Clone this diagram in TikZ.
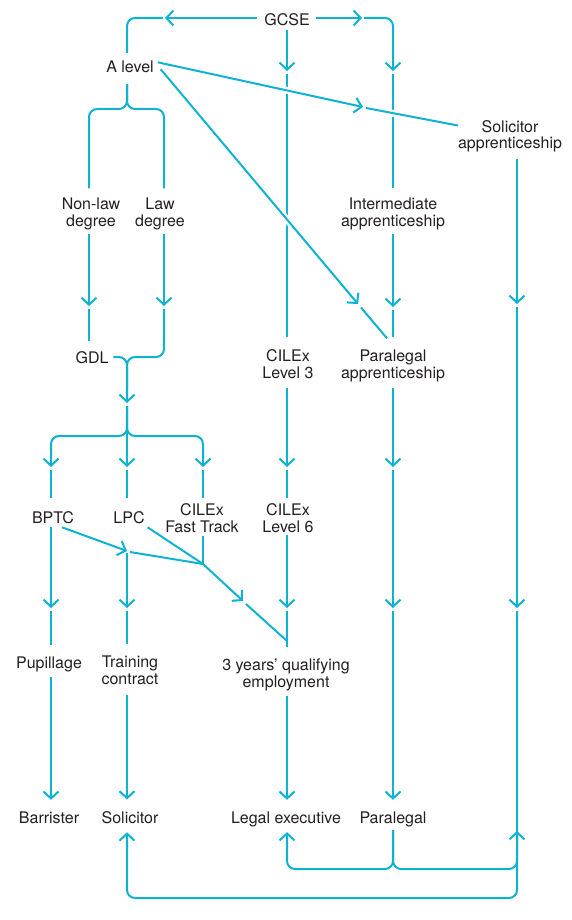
\documentclass[tikz,border=0pt]{standalone}
\usepackage{fontspec}
\setmainfont{TeX Gyre Heros}
\usetikzlibrary{arrows.meta}
\definecolor{cy}{RGB}{14,178,210}
\definecolor{ink}{RGB}{35,31,32}
\begin{document}
\begin{tikzpicture}[x=1pt,y=-1pt,
  ln/.style={draw=cy, line width=2pt, rounded corners=8pt},
  ar/.style={ln, -{Straight Barb[length=7pt,width=15pt,line width=2pt]}},
  halo/.style={draw=white, line width=7pt},
  lbl/.style={font=\fontsize{16}{16.5}\selectfont, text=ink, align=center, inner sep=0pt, outer sep=0pt, anchor=base}]
\useasboundingbox (0,0) rectangle (571,920);

% ---- nodes (anchor = baseline of last line) ----
\node[lbl] (gcse) at (287,26) {GCSE};
\node[lbl] (alevel) at (130,73) {A level};
\node[lbl] (nonlaw) at (91,226) {Non-law\\degree};
\node[lbl] (law) at (160,226) {Law\\degree};
\node[lbl] (solapp) at (510,149) {Solicitor\\apprenticeship};
\node[lbl] (intapp) at (393,226) {Intermediate\\apprenticeship};
\node[lbl] (gdl) at (92,363) {GDL};
\node[lbl] (cil3) at (288,378) {CILEx\\Level 3};
\node[lbl] (paraapp) at (393,378) {Paralegal\\apprenticeship};
\node[lbl] (bptc) at (53,523) {BPTC};
\node[lbl] (lpc) at (129,523) {LPC};
\node[lbl] (fast) at (202,532) {CILEx\\Fast Track};
\node[lbl] (cil6) at (288,532) {CILEx\\Level 6};
\node[lbl] (pup) at (49,668) {Pupillage};
\node[lbl] (train) at (130,684) {Training\\contract};
\node[lbl] (qual) at (286,687) {3 years’ qualifying\\employment};
\node[lbl] (barr) at (49,823) {Barrister};
\node[lbl] (sol) at (130,823) {Solicitor};
\node[lbl] (legal) at (286,823) {Legal executive};
\node[lbl] (para) at (393,823) {Paralegal};

% ---- GCSE ----
\draw[ar] ([xshift=-7pt]gcse.west |- 0,18) -- (165,18);
\draw[ln] (163,18) -| ([yshift=8.5pt]alevel.north -| 127,0);
\draw[ar] ([xshift=6pt]gcse.east |- 0,18) -- (362,18);
\draw[ar] (364,18) -| (393,71);
\draw[ln] (393,74) -- ([yshift=9.5pt]intapp.north -| 393,0);
\draw[ar] ([yshift=-4pt]gcse.south -| 287,0) -- (287,71);
\draw[ln] (287,74) -- ([yshift=12.5pt]cil3.north -| 287,0);

% ---- A level to degrees ----
\draw[ln] ([yshift=-11pt]alevel.south -| 127,0) |- (89,109) -- ([yshift=9.5pt]nonlaw.north -| 89,0);
\draw[ln] ([yshift=-11pt]alevel.south -| 127,0) |- (164,109) -- ([yshift=9.5pt]law.north -| 164,0);

% ---- degrees to GDL ----
\draw[ar] ([yshift=-4.6pt]nonlaw.south -| 89,0) -- (89,306);
\draw[ln] (89,309) -- ([yshift=10.5pt]gdl.north -| 89,0);
\draw[ar] ([yshift=-4.6pt]law.south -| 164,0) -- (164,306);
\draw[ar] (164,309) |- (127,357) -- (127,403);
\draw[ln] ([xshift=5pt]gdl.east |- 0,357) -| (127,390);

% ---- split to BPTC, LPC, Fast Track ----
\draw[ar] (127,406) |- (51,436) -- (51,467);
\draw[ar] (127,406) |- (203,436) -- (203,467);
\draw[ar] (127,406) -- (127,467);
\draw[ln] (51,470) -- ([yshift=13.5pt]bptc.north -| 51,0);
\draw[ln] (127,470) -- ([yshift=13.5pt]lpc.north -| 127,0);
\draw[ln] (203,470) -- ([yshift=5.5pt]fast.north -| 203,0);

% ---- CILEx column ----
\draw[ar] ([yshift=-10pt]cil3.south -| 287,0) -- (287,467);
\draw[ln] (287,470) -- ([yshift=5.5pt]cil6.north -| 287,0);
\draw[ar] ([yshift=-3pt]cil6.south -| 287,0) -- (287,608);
\draw[ln] (287,611) -- ([yshift=11.5pt]qual.north -| 287,0);
\draw[ar] ([yshift=-5.6pt]qual.south -| 287,0) -- ([yshift=11.5pt]legal.north -| 287,0);

% ---- apprenticeship column ----
\draw[ar] ([yshift=-4.6pt]intapp.south -| 393,0) -- (393,307);
\draw[ln] (393,310) -- ([yshift=12.5pt]paraapp.north -| 393,0);
\draw[ar] ([yshift=-6.6pt]paraapp.south -| 393,0) -- (393,467);
\draw[ar] (393,470) -- (393,608);
\draw[ar] (393,611) -- ([yshift=11.5pt]para.north -| 393,0);

% ---- solicitor apprenticeship column ----
\draw[ar] ([yshift=-6.6pt]solapp.south -| 517,0) -- (517,304);
\draw[ar] (517,307) -- (517,608);
\draw[ar] (517,611) |- (127,898) -- ([yshift=-9pt]sol.south -| 127,0);

% ---- paralegal ----
\draw[ar] ([yshift=-3.6pt]para.south -| 393,0) |- (287,869) -- ([yshift=-5.6pt]legal.south -| 287,0);
\draw[ar] ([yshift=-3.6pt]para.south -| 393,0) |- (517,869) -- (517,831);

% ---- left columns ----
\draw[ar] ([yshift=-4pt]bptc.south -| 51,0) -- (51,608);
\draw[ln] (51,611) -- ([yshift=11.5pt]pup.north -| 51,0);
\draw[ar] ([yshift=-5.6pt]pup.south -| 51,0) -- ([yshift=11.5pt]barr.north -| 51,0);
\draw[ar] (127,553) -- (127,608);
\draw[ln] (127,611) -- ([yshift=11.5pt]train.north -| 127,0);
\draw[ar] ([yshift=-11pt]train.south -| 127,0) -- ([yshift=11.5pt]sol.north -| 127,0);

% ---- junction to qualifying employment ----
\coordinate (J) at (203,564);
\draw[ar] ([yshift=-4pt]bptc.south -| 62,0) -- (127,551);
\draw[ln] (130,552) -- (J);
\draw[ln] ([shift={(3pt,-4pt)}]lpc.south east) -- (J);
\draw[ln] ([yshift=-4pt]fast.south -| 203,0) -- (J);
\draw[ar] (J) -- (243,601);
\draw[ln] (246,604) -- (287,641);

% ---- A level diagonals ----
\draw[halo] (277,88.2) -- (297,92.6);
\draw[halo] (385,111.7) -- (401,114.9);
\draw[halo] (281,212.6) -- (293,226.8);
\draw[ar] ([shift={(4pt,5pt)}]alevel.east) -- (363,107);
\draw[ln] (366,108) -- ([yshift=11pt]solapp.west);
\draw[ar] ([shift={(7pt,-2pt)}]alevel.east) -- (358,304);
\draw[ln] (361,307.5) -- ([shift={(-6pt,11.5pt)}]paraapp.north);
\end{tikzpicture}
\end{document}
